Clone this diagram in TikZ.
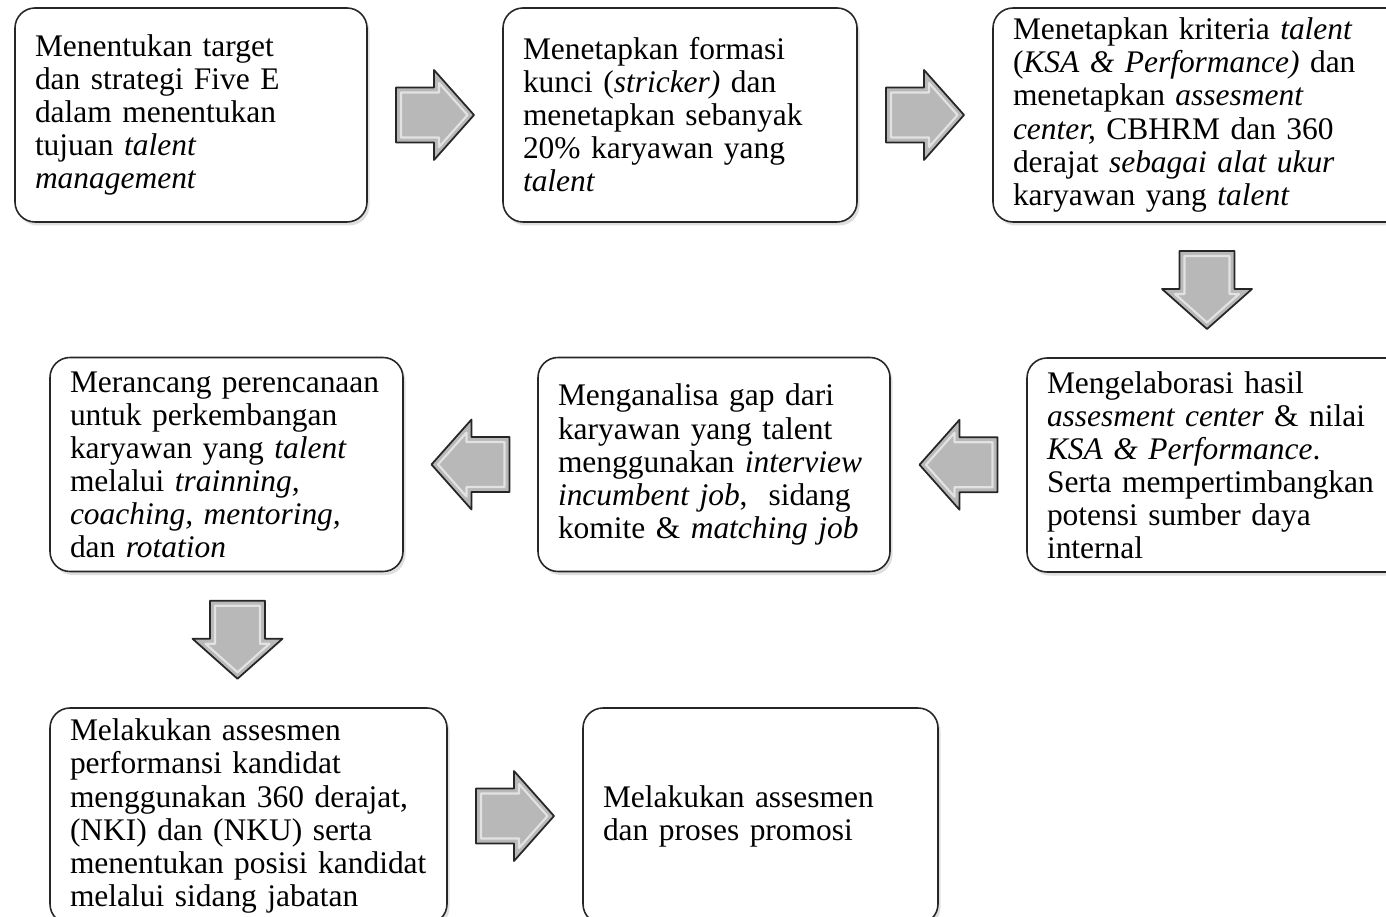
\documentclass[tikz,border=0pt]{standalone}
\usepackage{fontspec}
\setmainfont{Liberation Serif}
\usetikzlibrary{calc,shadows}

\tikzset{
  kotak/.style={draw=black!85, line width=0.9pt, rounded corners=0.4cm, fill=white,
    align=left, inner xsep=0.4cm, inner ysep=0pt, minimum height=4.28cm,
    font=\fontsize{17.9pt}{18.8pt}\selectfont,
    drop shadow={shadow xshift=0.05cm, shadow yshift=-0.07cm, opacity=0.25}},
  panah/.pic={
    \filldraw[fill=black!28, draw=black!85, line width=1pt, line join=round]
      (-0.78,-0.55) -- (-0.02,-0.55) -- (-0.02,-0.9) -- (0.78,0) -- (-0.02,0.9)
      -- (-0.02,0.55) -- (-0.78,0.55) -- cycle;
    \draw[white, opacity=0.6, line width=1.2pt, line join=round]
      (-0.68,-0.45) -- (0.08,-0.45) -- (0.08,-0.64) -- (0.65,0) -- (0.08,0.64)
      -- (0.08,0.45) -- (-0.68,0.45) -- cycle;
  }
}

\begin{document}
\begin{tikzpicture}
\useasboundingbox (0,0) rectangle (27.72,-18.34);

% baris atas
\node[kotak, text width=6.24cm] (b1) at (3.82,-2.30)
  {Menentukan target\\ dan strategi Five E\\ dalam menentukan\\ tujuan \textit{talent}\\ \textit{management}};
\node[kotak, text width=6.28cm] (b2) at (13.60,-2.30)
  {Menetapkan formasi\\ kunci (\textit{stricker)} dan\\ menetapkan sebanyak\\ 20\% karyawan yang\\ \textit{talent}};
\node[kotak, text width=7.76cm] (b3) at (24.14,-2.30)
  {Menetapkan kriteria \textit{talent}\\ (\textit{KSA \& Performance)} dan\\ menetapkan \textit{assesment}\\ \textit{center,} CBHRM dan 360\\ derajat \textit{sebagai alat ukur}\\ karyawan yang \textit{talent}};

% baris tengah
\node[kotak, text width=7.76cm] (b4) at (24.82,-9.30)
  {Mengelaborasi hasil\\ \textit{assesment center} \& nilai\\ \textit{KSA \& Performance}.\\ Serta mempertimbangkan\\ potensi sumber daya\\ internal};
\node[kotak, text width=6.24cm] (b5) at (14.28,-9.29)
  {Menganalisa gap dari\\ karyawan yang talent\\ menggunakan \textit{interview}\\ \textit{incumbent job},\ \ sidang\\ komite \& \textit{matching job}};
\node[kotak, text width=6.26cm] (b6) at (4.53,-9.29)
  {Merancang perencanaan\\ untuk perkembangan\\ karyawan yang \textit{talent}\\ melalui \textit{trainning,}\\ \textit{coaching, mentoring,}\\ dan \textit{rotation}};

% baris bawah
\node[kotak, text width=7.14cm, minimum height=4.32cm] (b7) at (4.97,-16.32)
  {Melakukan assesmen\\ performansi kandidat\\ menggunakan 360 derajat,\\ (NKI) dan (NKU) serta\\ menentukan posisi kandidat\\ melalui sidang jabatan};
\node[kotak, text width=6.30cm, minimum height=4.32cm] (b8) at (15.21,-16.32)
  {Melakukan assesmen\\ dan proses promosi};

% panah blok
\pic at ($(b1.east)!0.5!(b2.west)$) {panah};
\pic at ($(b2.east)!0.5!(b3.west)$) {panah};
\pic[rotate=-90] at ($(b3.south)!0.5!(b3.south |- b4.north)$) {panah};
\pic[rotate=180] at ($(b4.west)!0.5!(b5.east)$) {panah};
\pic[rotate=180] at ($(b5.west)!0.5!(b6.east)$) {panah};
\pic[rotate=-90] at ($(b6.south)!0.5!(b7.north)$) {panah};
\pic at ($(b7.east)!0.5!(b8.west)$) {panah};
\end{tikzpicture}
\end{document}
